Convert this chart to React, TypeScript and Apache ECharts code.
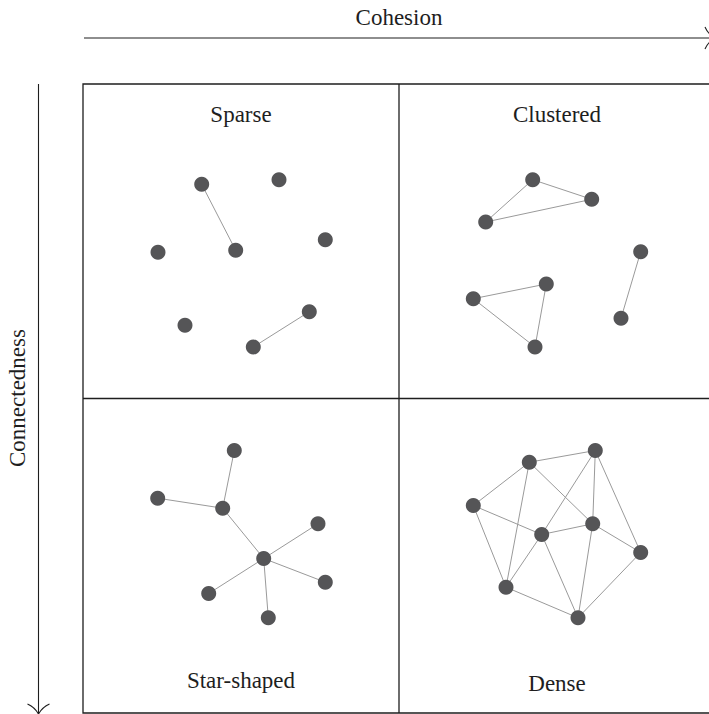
import React, { useEffect, useRef } from "react";
import * as echarts from "echarts";

// Panel titles
const panelTitles = ["Sparse", "Clustered", "Star-shaped", "Dense"];
const axisTitles = { x: "Cohesion", y: "Connectedness" };

// Node positions inside each panel (panel-local units, 0..316 x 0..315, y downwards)
const sparseNodes = [
  [118.7, 100.3], [196, 95.7], [75, 168.3], [152.7, 166.3],
  [242.3, 155.7], [102, 241.3], [170.3, 263], [226.3, 227.7],
];
const sparseLinks = [[0, 3], [6, 7]];

const clusteredNodes = [
  [133.7, 95.7], [192.7, 115.3], [86.7, 138], [241.7, 167.7],
  [147.3, 200], [74.3, 214.7], [136, 263], [222, 234.3],
];
const clusteredLinks = [[0, 1], [0, 2], [1, 2], [4, 5], [5, 6], [4, 6], [3, 7]];

const starNodes = [
  [151.3, 52], [74.7, 99.7], [139.7, 109.7], [235, 125.3],
  [180.7, 160], [242.3, 183.7], [125.7, 195], [185.3, 219.3],
];
const starLinks = [[0, 2], [1, 2], [2, 4], [4, 3], [4, 5], [4, 6], [4, 7]];

const denseNodes = [
  [196.3, 52], [130.3, 63.7], [74.3, 107], [193.7, 125.3],
  [142.7, 136], [241.7, 154], [107, 188.7], [179, 219.3],
];
const denseLinks = [
  [1, 0], [1, 2], [1, 6], [1, 3], [0, 4], [0, 3], [0, 5], [2, 4],
  [2, 6], [4, 3], [4, 6], [4, 7], [3, 7], [3, 5], [6, 7], [5, 7],
];

const panels = [
  { nodes: sparseNodes, links: sparseLinks },
  { nodes: clusteredNodes, links: clusteredLinks },
  { nodes: starNodes, links: starLinks },
  { nodes: denseNodes, links: denseLinks },
];

const FONT = "'Liberation Serif', 'Times New Roman', serif";
const INK = "#1e1e1e";

export default function App() {
  const ref = useRef<HTMLDivElement>(null);

  useEffect(() => {
    if (!ref.current) return;
    const chart = echarts.init(ref.current, undefined, { renderer: "svg" });

    const W = 709;
    const L = 83, T = 84, CW = 316, CH = 314.5;
    const cells = [
      { left: L, top: T },
      { left: L + CW, top: T },
      { left: L, top: T + CH },
      { left: L + CW, top: T + CH },
    ];

    // keep each grid inside the canvas; the visible width maps 1:1 to panel units
    const gridW = cells.map((c) => Math.min(CW, W - c.left));
    const grid = cells.map((c, i) => ({ left: c.left, top: c.top, width: gridW[i], height: CH }));
    const xAxis = cells.map((_, i) => ({ type: "value", gridIndex: i, min: 0, max: gridW[i], show: false }));
    const yAxis = cells.map((_, i) => ({ type: "value", gridIndex: i, min: 0, max: CH, inverse: true, show: false }));

    const series = panels.map((p, i) => ({
      type: "graph",
      coordinateSystem: "cartesian2d",
      xAxisIndex: i,
      yAxisIndex: i,
      symbol: "circle",
      symbolSize: 15,
      itemStyle: { color: "#555557" },
      lineStyle: { color: "#9a9a9a", width: 1, opacity: 1 },
      label: { show: false },
      data: p.nodes.map((n) => ({ value: n })),
      links: p.links.map(([s, t]) => ({ source: s, target: t })),
      silent: true,
    }));

    const titlePos = [
      { x: 241, y: 114 },
      { x: 557, y: 114.5 },
      { x: 241, y: 680 },
      { x: 557, y: 683 },
    ];

    const tipR = { x: 715, y: 38 };
    const tipB = { x: 38.5, y: 714 };

    const graphic: any[] = [
      // frame
      { type: "rect", shape: { x: L, y: T, width: 2 * CW, height: 2 * CH }, style: { fill: "none", stroke: INK, lineWidth: 1.3 }, silent: true },
      { type: "line", shape: { x1: L + CW, y1: T, x2: L + CW, y2: T + 2 * CH }, style: { stroke: INK, lineWidth: 1.3 }, silent: true },
      { type: "line", shape: { x1: L, y1: T + CH, x2: L + 2 * CW, y2: T + CH }, style: { stroke: INK, lineWidth: 1.3 }, silent: true },
      // top arrow
      { type: "line", shape: { x1: 84, y1: 38, x2: tipR.x, y2: tipR.y }, style: { stroke: INK, lineWidth: 1.1 }, silent: true },
      { type: "bezierCurve", shape: { x1: tipR.x - 10, y1: tipR.y - 11, cpx1: tipR.x - 7, cpy1: tipR.y - 4, x2: tipR.x, y2: tipR.y }, style: { stroke: INK, lineWidth: 1.1, fill: "none" }, silent: true },
      { type: "bezierCurve", shape: { x1: tipR.x - 10, y1: tipR.y + 11, cpx1: tipR.x - 7, cpy1: tipR.y + 4, x2: tipR.x, y2: tipR.y }, style: { stroke: INK, lineWidth: 1.1, fill: "none" }, silent: true },
      // left arrow
      { type: "line", shape: { x1: tipB.x, y1: 84, x2: tipB.x, y2: tipB.y }, style: { stroke: INK, lineWidth: 1.1 }, silent: true },
      { type: "bezierCurve", shape: { x1: tipB.x - 11, y1: tipB.y - 10, cpx1: tipB.x - 4, cpy1: tipB.y - 7, x2: tipB.x, y2: tipB.y }, style: { stroke: INK, lineWidth: 1.1, fill: "none" }, silent: true },
      { type: "bezierCurve", shape: { x1: tipB.x + 11, y1: tipB.y - 10, cpx1: tipB.x + 4, cpy1: tipB.y - 7, x2: tipB.x, y2: tipB.y }, style: { stroke: INK, lineWidth: 1.1, fill: "none" }, silent: true },
      // axis titles
      { type: "text", x: 399, y: 17, style: { text: axisTitles.x, font: `23px ${FONT}`, fill: INK, align: "center", verticalAlign: "middle" }, silent: true },
      { type: "text", x: 17, y: 398, rotation: Math.PI / 2, style: { text: axisTitles.y, font: `23px ${FONT}`, fill: INK, align: "center", verticalAlign: "middle" }, silent: true },
      ...panelTitles.map((t, i) => ({
        type: "text",
        x: titlePos[i].x,
        y: titlePos[i].y,
        style: { text: t, font: `23px ${FONT}`, fill: INK, align: "center", verticalAlign: "middle" },
        silent: true,
      })),
    ];

    chart.setOption({
      animation: false,
      backgroundColor: "#ffffff",
      grid,
      xAxis,
      yAxis,
      series,
      graphic,
    } as any);

    return () => chart.dispose();
  }, []);

  return (
    <div
      ref={ref}
      style={{ position: "fixed", left: 0, top: 0, width: 709, height: 714 }}
    />
  );
}
